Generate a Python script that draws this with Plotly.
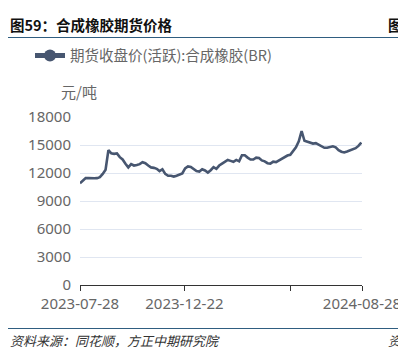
import pandas as pd
import plotly.graph_objects as go

# ---- data ----
dates = pd.date_range("2023-07-28", periods=100, freq="4D")
prices = [
    10900, 11200, 11450, 11450, 11420, 11430, 11450, 11550, 11900, 12350,
    14450, 14100, 14050, 14100, 13700, 13450, 13000, 12600, 12950, 12800,
    12850, 12950, 13150, 13050, 12800, 12600, 12550, 12450, 12200, 12400,
    11900, 11700, 11700, 11620, 11700, 11850, 11950, 12500, 12700, 12650,
    12450, 12200, 12150, 12400, 12270, 12050, 12300, 12630, 12450, 12800,
    13000, 13200, 13400, 13300, 13200, 13400, 13250, 13900, 13900, 13650,
    13450, 13450, 13650, 13600, 13350, 13250, 13050, 13000, 13220, 13170,
    13350, 13580, 13750, 13870, 13950, 14420, 14750, 15400, 16500, 15450,
    15330, 15280, 15150, 15200, 15050, 14870, 14700, 14700, 14780, 14860,
    14750, 14450, 14280, 14200, 14300, 14420, 14520, 14660, 14900, 15270,
]
series_name = "期货收盘价(活跃):合成橡胶(BR)"
x_tick_vals = ["2023-07-28", "2023-12-22", "2024-05-20", "2024-08-28"]
x_tick_text = ["2023-07-28", "2023-12-22", "", "2024-08-28"]
y_tick_vals = [0, 3000, 6000, 9000, 12000, 15000, 18000]
y_tick_text = ["0", "3000", "6000", "9000", "12000", "15000", "18000"]

W, H = 398, 351
ml, mr, mt, mb = 80, 36, 117, 66
pw = W - ml - mr
ph = H - mt - mb

font_main = "Noto Sans, Noto Sans CJK SC, sans-serif"
font_cjk = "Noto Sans CJK SC, sans-serif"
gray = "#666666"
line_col = "#475670"
rule_col = "#2f5d80"

fig = go.Figure()
fig.add_trace(go.Scatter(
    x=dates, y=prices, mode="lines", name=series_name,
    line=dict(color=line_col, width=2.6),
    showlegend=False,
))
# legend-only trace with marker (line+marker symbol)
fig.add_trace(go.Scatter(
    x=[None], y=[None], mode="lines+markers", name=series_name,
    line=dict(color=line_col, width=2.6),
    marker=dict(color=line_col, size=10),
))

fig.update_layout(
    width=W, height=H,
    margin=dict(l=ml, r=mr, t=mt, b=mb, autoexpand=False),
    paper_bgcolor="white", plot_bgcolor="white",
    font=dict(family=font_main, color=gray, size=15),
    showlegend=True,
    legend=dict(
        x=(30 - ml) / pw, y=(H - 55.5 - mb) / ph,
        xanchor="left", yanchor="middle",
        font=dict(family=font_cjk, size=14.5, color=gray),
        bgcolor="rgba(0,0,0,0)", borderwidth=0,
        itemsizing="constant",
    ),
    xaxis=dict(
        type="date",
        range=["2023-07-28", "2024-08-28"],
        tickvals=x_tick_vals, ticktext=x_tick_text,
        showgrid=False, zeroline=False,
        showline=True, linecolor="#333333", linewidth=1,
        ticks="outside", ticklen=5, tickcolor="#333333", tickwidth=1,
        ticklabeloverflow="allow", automargin=False,
        tickfont=dict(family=font_main, size=15, color=gray),
    ),
    yaxis=dict(
        range=[0, 18000],
        tickvals=y_tick_vals, ticktext=y_tick_text,
        showgrid=True, gridcolor="#e0e6f1", gridwidth=1,
        zeroline=False, showline=False, ticks="",
        ticklabelstandoff=8, automargin=False,
        tickfont=dict(family=font_main, size=15, color=gray),
    ),
)

# header / footer texts
fig.add_annotation(xref="paper", yref="paper",
                   x=(8 - ml) / pw, y=(H - 25 - mb) / ph,
                   xanchor="left", yanchor="middle", showarrow=False,
                   text="<b>图59：合成橡胶期货价格</b>",
                   font=dict(family=font_cjk, size=14.5, color="#111111"))
fig.add_annotation(xref="paper", yref="paper",
                   x=(386 - ml) / pw, y=(H - 25 - mb) / ph,
                   xanchor="left", yanchor="middle", showarrow=False,
                   text="<b>图</b>",
                   font=dict(family=font_cjk, size=14.5, color="#111111"))
fig.add_annotation(xref="paper", yref="paper",
                   x=(79 - ml) / pw, y=(H - 91 - mb) / ph,
                   xanchor="center", yanchor="middle", showarrow=False,
                   text="元/吨",
                   font=dict(family=font_cjk, size=15, color=gray))
fig.add_annotation(xref="paper", yref="paper",
                   x=(8 - ml) / pw, y=(H - 340 - mb) / ph,
                   xanchor="left", yanchor="middle", showarrow=False,
                   text="<i>资料来源：同花顺，方正中期研究院</i>",
                   font=dict(family=font_cjk, size=13, color="#333333"))
fig.add_annotation(xref="paper", yref="paper",
                   x=(386 - ml) / pw, y=(H - 340 - mb) / ph,
                   xanchor="left", yanchor="middle", showarrow=False,
                   text="<i>资</i>",
                   font=dict(family=font_cjk, size=13, color="#333333"))

for yy in (37.5, 328.5):
    fig.add_shape(type="line", xref="paper", yref="paper",
                  x0=(8 - ml) / pw, x1=(W + 5 - ml) / pw,
                  y0=(H - yy - mb) / ph, y1=(H - yy - mb) / ph,
                  line=dict(color=rule_col, width=1.2))

fig.write_html("out.html")
